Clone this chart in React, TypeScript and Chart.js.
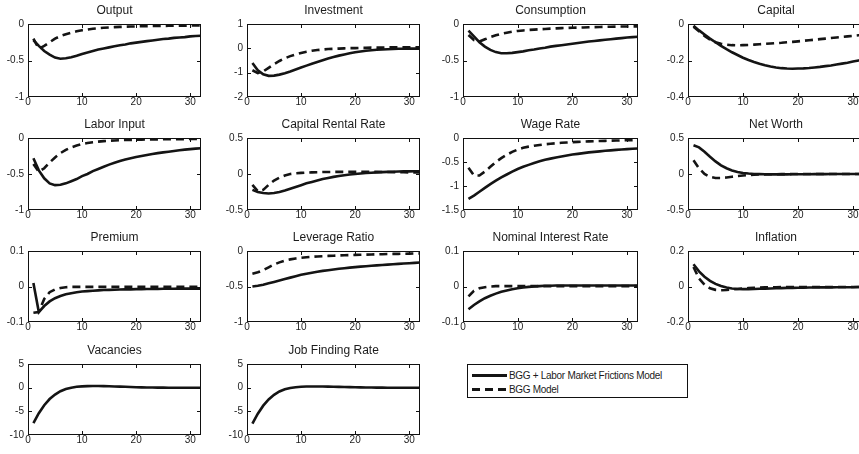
import React, { useEffect, useRef } from "react";
import { Chart, registerables } from "chart.js";

Chart.register(...registerables);

const periods = [1, 2, 3, 4, 5, 6, 7, 8, 9, 10, 11, 12, 13, 14, 15, 16, 17, 18, 19, 20, 21, 22, 23, 24, 25, 26, 27, 28, 29, 30, 31, 32];
const xTickValues = [0, 10, 20, 30];

const outputSolid = [-0.22, -0.3, -0.37, -0.42, -0.46, -0.475, -0.47, -0.455, -0.435, -0.41, -0.39, -0.37, -0.35, -0.335, -0.32, -0.305, -0.29, -0.28, -0.265, -0.255, -0.245, -0.235, -0.225, -0.215, -0.205, -0.2, -0.19, -0.185, -0.18, -0.17, -0.165, -0.16];
const outputDashed = [-0.2, -0.34, -0.3, -0.25, -0.2, -0.165, -0.14, -0.12, -0.1, -0.085, -0.075, -0.065, -0.058, -0.052, -0.047, -0.043, -0.04, -0.037, -0.035, -0.033, -0.031, -0.029, -0.028, -0.027, -0.026, -0.025, -0.024, -0.023, -0.022, -0.021, -0.02, -0.02];

const investSolid = [-0.6, -0.9, -1.07, -1.13, -1.12, -1.08, -1.02, -0.95, -0.87, -0.79, -0.71, -0.63, -0.56, -0.49, -0.42, -0.36, -0.3, -0.25, -0.2, -0.16, -0.13, -0.1, -0.08, -0.06, -0.05, -0.04, -0.03, -0.02, -0.02, -0.01, -0.01, -0.01];
const investDashed = [-0.9, -1.02, -0.95, -0.8, -0.65, -0.52, -0.41, -0.32, -0.25, -0.19, -0.14, -0.1, -0.07, -0.05, -0.03, -0.02, -0.01, 0, 0.01, 0.01, 0.02, 0.02, 0.03, 0.03, 0.03, 0.04, 0.04, 0.04, 0.04, 0.04, 0.04, 0.04];

const consSolid = [-0.09, -0.17, -0.25, -0.31, -0.355, -0.385, -0.4, -0.4, -0.395, -0.385, -0.375, -0.36, -0.35, -0.335, -0.325, -0.31, -0.3, -0.29, -0.28, -0.27, -0.26, -0.25, -0.24, -0.232, -0.224, -0.216, -0.208, -0.2, -0.193, -0.186, -0.18, -0.175];
const consDashed = [-0.15, -0.22, -0.24, -0.21, -0.18, -0.155, -0.135, -0.12, -0.105, -0.095, -0.088, -0.082, -0.077, -0.072, -0.068, -0.064, -0.06, -0.057, -0.054, -0.051, -0.049, -0.047, -0.045, -0.043, -0.041, -0.039, -0.038, -0.036, -0.035, -0.034, -0.033, -0.032];

const capitalSolid = [-0.01, -0.035, -0.058, -0.08, -0.1, -0.12, -0.138, -0.155, -0.17, -0.185, -0.197, -0.208, -0.218, -0.226, -0.233, -0.238, -0.242, -0.244, -0.245, -0.244, -0.243, -0.241, -0.238, -0.235, -0.231, -0.227, -0.222, -0.217, -0.212, -0.206, -0.2, -0.195];
const capitalDashed = [-0.015, -0.04, -0.065, -0.085, -0.1, -0.108, -0.113, -0.116, -0.117, -0.116, -0.115, -0.113, -0.111, -0.109, -0.107, -0.105, -0.103, -0.1, -0.098, -0.095, -0.092, -0.089, -0.086, -0.083, -0.08, -0.077, -0.074, -0.071, -0.068, -0.065, -0.062, -0.059];

const laborSolid = [-0.28, -0.45, -0.56, -0.63, -0.655, -0.65, -0.63, -0.6, -0.57, -0.53, -0.5, -0.46, -0.43, -0.4, -0.37, -0.345, -0.32, -0.3, -0.28, -0.265, -0.25, -0.235, -0.222, -0.21, -0.2, -0.19, -0.18, -0.17, -0.162, -0.155, -0.148, -0.142];
const laborDashed = [-0.36, -0.47, -0.42, -0.34, -0.27, -0.21, -0.165, -0.13, -0.105, -0.085, -0.07, -0.058, -0.05, -0.043, -0.038, -0.034, -0.031, -0.028, -0.026, -0.024, -0.022, -0.021, -0.02, -0.019, -0.018, -0.017, -0.016, -0.015, -0.015, -0.014, -0.014, -0.013];

const rentalSolid = [-0.22, -0.25, -0.265, -0.27, -0.265, -0.25, -0.23, -0.205, -0.18, -0.155, -0.13, -0.11, -0.09, -0.07, -0.055, -0.04, -0.028, -0.017, -0.008, 0, 0.007, 0.013, 0.018, 0.022, 0.026, 0.029, 0.032, 0.034, 0.036, 0.037, 0.038, 0.039];
const rentalDashed = [-0.15, -0.24, -0.22, -0.15, -0.09, -0.05, -0.02, 0, 0.01, 0.015, 0.02, 0.023, 0.025, 0.027, 0.028, 0.029, 0.03, 0.03, 0.03, 0.03, 0.03, 0.03, 0.029, 0.029, 0.028, 0.027, 0.026, 0.025, 0.024, 0.023, 0.022, 0.021];

const wageSolid = [-1.27, -1.2, -1.12, -1.04, -0.96, -0.89, -0.82, -0.76, -0.7, -0.645, -0.6, -0.56, -0.52, -0.485, -0.455, -0.43, -0.405, -0.385, -0.365, -0.345, -0.33, -0.315, -0.3, -0.29, -0.278, -0.267, -0.257, -0.248, -0.24, -0.232, -0.225, -0.218];
const wageDashed = [-0.62, -0.78, -0.78, -0.7, -0.6, -0.5, -0.42, -0.35, -0.29, -0.24, -0.205, -0.18, -0.16, -0.145, -0.13, -0.12, -0.11, -0.1, -0.093, -0.087, -0.081, -0.076, -0.071, -0.067, -0.063, -0.059, -0.056, -0.053, -0.05, -0.047, -0.045, -0.043];

const netWorthSolid = [0.4, 0.37, 0.31, 0.24, 0.175, 0.12, 0.08, 0.05, 0.028, 0.014, 0.006, 0.001, -0.002, -0.004, -0.005, -0.005, -0.005, -0.005, -0.004, -0.004, -0.003, -0.003, -0.002, -0.002, -0.002, -0.001, -0.001, -0.001, -0.001, 0, 0, 0];
const netWorthDashed = [0.19, 0.08, 0.0, -0.04, -0.055, -0.055, -0.048, -0.038, -0.028, -0.02, -0.014, -0.01, -0.007, -0.005, -0.004, -0.003, -0.002, -0.002, -0.001, -0.001, -0.001, 0, 0, 0, 0, 0, 0, 0, 0, 0, 0, 0];

const premiumSolid = [0.01, -0.072, -0.055, -0.042, -0.033, -0.027, -0.022, -0.019, -0.016, -0.014, -0.013, -0.012, -0.011, -0.01, -0.0095, -0.009, -0.0085, -0.008, -0.008, -0.0075, -0.0075, -0.007, -0.007, -0.007, -0.0065, -0.0065, -0.0065, -0.006, -0.006, -0.006, -0.006, -0.006];
const premiumDashed = [-0.074, -0.072, -0.035, -0.016, -0.008, -0.004, -0.002, -0.001, -0.001, -0.001, -0.001, -0.001, -0.001, -0.001, -0.001, -0.001, -0.001, -0.001, -0.001, -0.001, -0.001, -0.001, -0.001, -0.001, -0.001, -0.001, -0.001, -0.001, -0.001, -0.001, -0.001, -0.001];

const leverageSolid = [-0.5, -0.49, -0.475, -0.455, -0.435, -0.415, -0.395, -0.375, -0.355, -0.335, -0.32, -0.305, -0.292, -0.28, -0.27, -0.26, -0.25, -0.242, -0.234, -0.227, -0.22, -0.214, -0.208, -0.202, -0.197, -0.192, -0.187, -0.182, -0.177, -0.172, -0.167, -0.163];
const leverageDashed = [-0.32, -0.3, -0.27, -0.23, -0.19, -0.16, -0.135, -0.118, -0.105, -0.095, -0.088, -0.082, -0.077, -0.073, -0.069, -0.066, -0.063, -0.06, -0.058, -0.055, -0.053, -0.051, -0.049, -0.047, -0.045, -0.043, -0.041, -0.04, -0.038, -0.037, -0.035, -0.034];

const nominalSolid = [-0.064, -0.052, -0.042, -0.033, -0.026, -0.02, -0.015, -0.011, -0.008, -0.005, -0.003, -0.001, 0, 0.001, 0.002, 0.002, 0.003, 0.003, 0.003, 0.003, 0.003, 0.003, 0.003, 0.003, 0.003, 0.003, 0.003, 0.003, 0.003, 0.003, 0.003, 0.003];
const nominalDashed = [-0.028, -0.012, -0.005, -0.002, 0, 0.001, 0.001, 0.001, 0.001, 0.001, 0.001, 0.001, 0.001, 0.001, 0.001, 0.001, 0.001, 0.001, 0.001, 0.001, 0.001, 0.001, 0.001, 0.001, 0.001, 0.001, 0.001, 0.001, 0.001, 0.001, 0.001, 0.001];

const inflationSolid = [0.125, 0.085, 0.055, 0.032, 0.015, 0.003, -0.006, -0.011, -0.014, -0.015, -0.015, -0.014, -0.013, -0.012, -0.011, -0.01, -0.009, -0.008, -0.008, -0.007, -0.007, -0.006, -0.006, -0.005, -0.005, -0.005, -0.004, -0.004, -0.004, -0.004, -0.003, -0.003];
const inflationDashed = [0.11, 0.045, 0.01, -0.01, -0.019, -0.021, -0.02, -0.017, -0.014, -0.011, -0.009, -0.007, -0.006, -0.005, -0.004, -0.004, -0.003, -0.003, -0.003, -0.003, -0.003, -0.003, -0.003, -0.003, -0.003, -0.003, -0.003, -0.003, -0.003, -0.003, -0.003, -0.003];

const vacanciesSolid = [-7.5, -5.4, -3.7, -2.4, -1.45, -0.75, -0.3, 0.0, 0.18, 0.28, 0.33, 0.35, 0.35, 0.33, 0.3, 0.26, 0.22, 0.18, 0.14, 0.1, 0.07, 0.05, 0.03, 0.01, 0, -0.01, -0.02, -0.02, -0.03, -0.03, -0.03, -0.03];
const jobFindingSolid = [-7.6, -5.5, -3.8, -2.5, -1.5, -0.8, -0.35, -0.05, 0.1, 0.2, 0.24, 0.26, 0.26, 0.25, 0.23, 0.2, 0.17, 0.14, 0.11, 0.08, 0.06, 0.04, 0.02, 0.01, 0, -0.01, -0.02, -0.02, -0.03, -0.03, -0.03, -0.03];

const titles = ["Output", "Investment", "Consumption", "Capital", "Labor Input", "Capital Rental Rate", "Wage Rate", "Net Worth", "Premium", "Leverage Ratio", "Nominal Interest Rate", "Inflation", "Vacancies", "Job Finding Rate"];
const yTickSets = [
  [-1, -0.5, 0], [-2, -1, 0, 1], [-1, -0.5, 0], [-0.4, -0.2, 0],
  [-1, -0.5, 0], [-0.5, 0, 0.5], [-1.5, -1, -0.5, 0], [-0.5, 0, 0.5],
  [-0.1, 0, 0.1], [-1, -0.5, 0], [-0.1, 0, 0.1], [-0.2, 0, 0.2],
  [-10, -5, 0, 5], [-10, -5, 0, 5],
];
const solidSeries = [outputSolid, investSolid, consSolid, capitalSolid, laborSolid, rentalSolid, wageSolid, netWorthSolid, premiumSolid, leverageSolid, nominalSolid, inflationSolid, vacanciesSolid, jobFindingSolid];
const dashedSeries = [outputDashed, investDashed, consDashed, capitalDashed, laborDashed, rentalDashed, wageDashed, netWorthDashed, premiumDashed, leverageDashed, nominalDashed, inflationDashed, null, null];
const legendLabels = ["BGG + Labor Market Frictions Model", "BGG Model"];

// layout (plot-area boxes)
const colLeft = [28, 247, 463, 688];
const colWidth = [173, 173, 175, 176];
const rowTop = [24, 138, 251, 364];
const rowHeight = [73, 72, 71, 71];

const Y_W = 28;
const X_H = 18;
const PAD_T = 22;
const PAD_R = 8;
const FONT = "'Liberation Sans', Arial, Helvetica, sans-serif";
const INK = "#1c1c1c";

function fmt(v: number) {
  const r = Math.round(v * 1000) / 1000;
  return String(r);
}

const framePlugin = {
  id: "matlabFrame",
  afterDraw(chart: any) {
    const ctx = chart.ctx as CanvasRenderingContext2D;
    const a = chart.chartArea;
    const xs = chart.scales.x;
    const ys = chart.scales.y;
    const L = Math.round(a.left);
    const T = Math.round(a.top);
    const R = Math.round(a.right);
    const B = Math.round(a.bottom);
    const cfg = chart.options.plugins.panelTitle;
    const yt: number[] = cfg.yTicks;
    ctx.save();
    ctx.setLineDash([]);
    ctx.globalAlpha = 1;
    ctx.fillStyle = "#111111";
    // frame
    ctx.fillRect(L, T, R - L, 1);
    ctx.fillRect(L, B - 1, R - L, 1);
    ctx.fillRect(L, T, 1, B - T);
    ctx.fillRect(R - 1, T, 1, B - T);
    const tl = 3;
    for (const v of xTickValues) {
      const px = Math.round(xs.getPixelForValue(v));
      ctx.fillRect(px, B - 1 - tl, 1, tl);
      ctx.fillRect(px, T + 1, 1, tl);
    }
    for (const v of yt) {
      const py = Math.min(B - 1, Math.round(ys.getPixelForValue(v)));
      ctx.fillRect(L + 1, py, tl, 1);
      ctx.fillRect(R - 1 - tl, py, tl, 1);
    }
    ctx.fillStyle = INK;
    ctx.font = `10px ${FONT}`;
    // y tick labels
    ctx.textAlign = "right";
    ctx.textBaseline = "middle";
    for (const v of yt) {
      ctx.fillText(fmt(v), L - 4, ys.getPixelForValue(v));
    }
    // x tick labels
    ctx.textAlign = "center";
    ctx.textBaseline = "middle";
    for (const v of xTickValues) {
      ctx.fillText(fmt(v), xs.getPixelForValue(v), B + 5);
    }
    // title
    ctx.font = `12px ${FONT}`;
    ctx.textAlign = "center";
    ctx.fillText(cfg.text, (a.left + a.right) / 2, a.top - 13);
    ctx.restore();
  },
};

function Panel({ idx }: { idx: number }) {
  const ref = useRef<HTMLCanvasElement>(null);
  const col = idx % 4;
  const row = Math.floor(idx / 4);
  const w = colWidth[col] + Y_W + PAD_R;
  const h = rowHeight[row] + PAD_T + X_H;
  const left = colLeft[col] - Y_W;
  const top = rowTop[row] - PAD_T;

  useEffect(() => {
    const yt = yTickSets[idx];
    const datasets: any[] = [
      {
        data: periods.map((x, i) => ({ x, y: solidSeries[idx][i] })),
        borderColor: "#141414",
        borderWidth: 2.6,
        pointRadius: 0,
        tension: 0,
        fill: false,
      },
    ];
    const d = dashedSeries[idx];
    if (d) {
      datasets.push({
        data: periods.map((x, i) => ({ x, y: d[i] })),
        borderColor: "#141414",
        borderWidth: 2.6,
        borderDash: [8, 5],
        pointRadius: 0,
        tension: 0,
        fill: false,
      });
    }
    const chart = new Chart(ref.current as HTMLCanvasElement, {
      type: "line",
      data: { datasets },
      options: {
        animation: false,
        responsive: false,
        maintainAspectRatio: false,
        devicePixelRatio: 1,
        events: [],
        layout: { padding: { top: PAD_T, right: PAD_R, left: Y_W, bottom: X_H } },
        plugins: {
          legend: { display: false },
          tooltip: { enabled: false },
          panelTitle: { text: titles[idx], yTicks: yt },
        } as any,
        scales: {
          x: { type: "linear", display: false, min: 0, max: 32 },
          y: { type: "linear", display: false, min: yt[0], max: yt[yt.length - 1] },
        },
      } as any,
      plugins: [framePlugin],
    });
    return () => chart.destroy();
  }, [idx]);

  return (
    <canvas
      ref={ref}
      width={w}
      height={h}
      style={{ position: "absolute", left, top, width: w, height: h }}
    />
  );
}

function Legend() {
  const rowStyle: React.CSSProperties = {
    position: "absolute",
    left: 4,
    height: 14,
    display: "flex",
    alignItems: "center",
    whiteSpace: "nowrap",
  };
  const textStyle: React.CSSProperties = {
    fontFamily: FONT,
    fontSize: 10,
    letterSpacing: "-0.3px",
    color: INK,
    marginLeft: 2,
  };
  return (
    <div
      style={{
        position: "absolute",
        left: 467,
        top: 364,
        width: 221,
        height: 34,
        border: "1px solid #111",
        background: "#fff",
        boxSizing: "border-box",
      }}
    >
      <div style={{ ...rowStyle, top: 3 }}>
        <div style={{ width: 35, height: 3, background: "#141414" }} />
        <span style={textStyle}>{legendLabels[0]}</span>
      </div>
      <div style={{ ...rowStyle, top: 17 }}>
        <div
          style={{
            width: 35,
            height: 3,
            background: "repeating-linear-gradient(90deg, #141414 0 8px, transparent 8px 13px)",
          }}
        />
        <span style={textStyle}>{legendLabels[1]}</span>
      </div>
    </div>
  );
}

export default function App() {
  return (
    <div
      style={{
        position: "absolute",
        left: 0,
        top: 0,
        width: 859,
        height: 454,
        overflow: "hidden",
        background: "#fff",
      }}
    >
      {titles.map((_, i) => (
        <Panel key={i} idx={i} />
      ))}
      <Legend />
    </div>
  );
}
